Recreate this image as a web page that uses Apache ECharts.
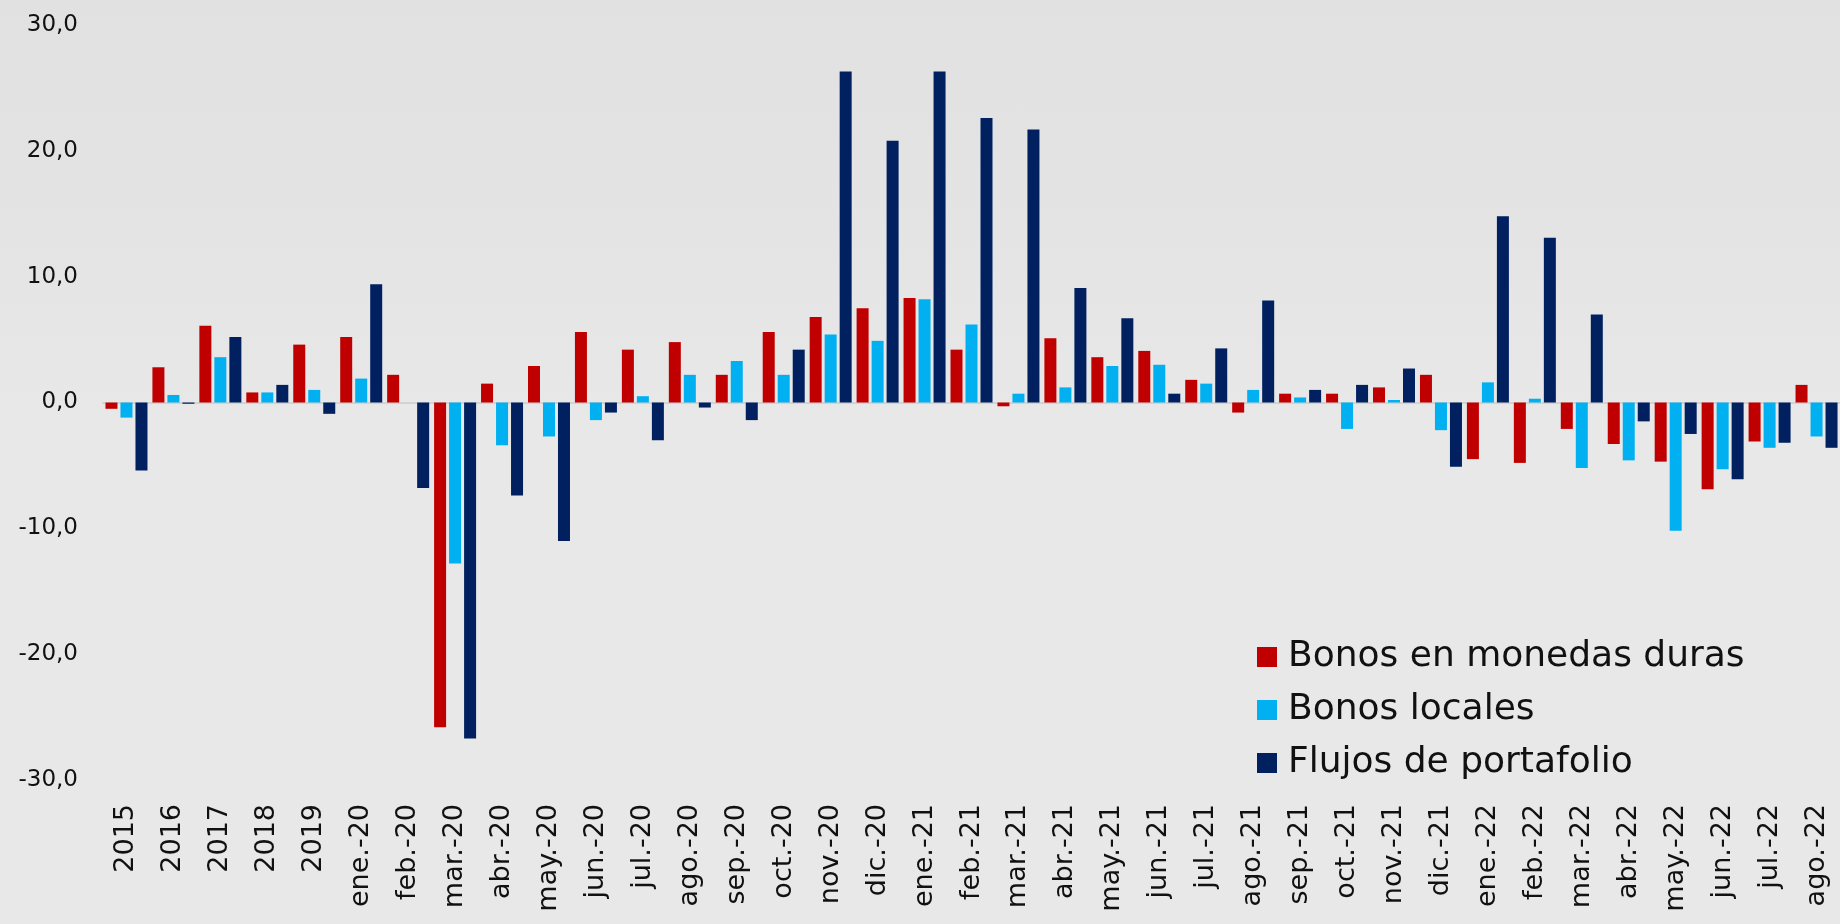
<!DOCTYPE html>
<html>
<head>
<meta charset="utf-8">
<script src="https://cdn.jsdelivr.net/npm/echarts@6/dist/echarts.min.js"></script>
<style>
  html, body { margin: 0; padding: 0; }
  body { width: 1840px; height: 924px; overflow: hidden;
         background: linear-gradient(to bottom, #e1e1e1 0%, #e4e4e4 25%, #e8e8e8 45%, #e8e8e8 100%); }
  #chart { width: 1840px; height: 924px; }
</style>
</head>
<body>
<div id="chart"></div>
<script>
const categories = ['2015','2016','2017','2018','2019',
  'ene.-20','feb.-20','mar.-20','abr.-20','may.-20','jun.-20','jul.-20','ago.-20','sep.-20','oct.-20','nov.-20','dic.-20',
  'ene.-21','feb.-21','mar.-21','abr.-21','may.-21','jun.-21','jul.-21','ago.-21','sep.-21','oct.-21','nov.-21','dic.-21',
  'ene.-22','feb.-22','mar.-22','abr.-22','may.-22','jun.-22','jul.-22','ago.-22'];

const bonosDuras = [-0.5, 2.8, 6.1, 0.8, 4.6, 5.2, 2.2, -25.8, 1.5, 2.9, 5.6, 4.2, 4.8, 2.2, 5.6, 6.8, 7.5,
  8.3, 4.2, -0.3, 5.1, 3.6, 4.1, 1.8, -0.8, 0.7, 0.7, 1.2, 2.2, -4.5, -4.8, -2.1, -3.3, -4.7, -6.9, -3.1, 1.4];
const bonosLocales = [-1.2, 0.6, 3.6, 0.8, 1.0, 1.9, 0, -12.8, -3.4, -2.7, -1.4, 0.5, 2.2, 3.3, 2.2, 5.4, 4.9,
  8.2, 6.2, 0.7, 1.2, 2.9, 3.0, 1.5, 1.0, 0.4, -2.1, 0.2, -2.2, 1.6, 0.3, -5.2, -4.6, -10.2, -5.3, -3.6, -2.7];
const flujos = [-5.4, -0.1, 5.2, 1.4, -0.9, 9.4, -6.8, -26.7, -7.4, -11.0, -0.8, -3.0, -0.4, -1.4, 4.2, 26.3, 20.8,
  26.3, 22.6, 21.7, 9.1, 6.7, 0.7, 4.3, 8.1, 1.0, 1.4, 2.7, -5.1, 14.8, 13.1, 7.0, -1.5, -2.5, -6.1, -3.2, -3.6];

const seriesNames = ['Bonos en monedas duras', 'Bonos locales', 'Flujos de portafolio'];
const colors = ['#C00000', '#00B0F0', '#002060'];

const FONT = 'DejaVu Sans';
const chart = echarts.init(document.getElementById('chart'), null, { renderer: 'canvas' });

chart.setOption({
  backgroundColor: 'transparent',
  animation: false,
  color: colors,
  grid: { left: 103, right: 0, top: 25, bottom: 144, containLabel: false },
  legend: {
    orient: 'vertical',
    left: 1257,
    top: 639,
    padding: 0,
    icon: 'rect',
    itemWidth: 20,
    itemHeight: 20,
    itemGap: 17,
    data: seriesNames,
    textStyle: { fontFamily: FONT, fontSize: 36, color: '#111', lineHeight: 36, padding: [0, 0, 0, 6] }
  },
  xAxis: [
    {
      type: 'category',
      data: categories,
      position: 'bottom',
      axisLine: { show: false, onZero: false },
      axisTick: { show: false },
      splitLine: { show: false },
      axisLabel: { rotate: 90, interval: 0, margin: 24, fontFamily: FONT, fontSize: 27, color: '#111' }
    },
    {
      type: 'category',
      data: categories,
      position: 'bottom',
      axisLine: { show: true, onZero: true, lineStyle: { color: '#d3d3d3', width: 2 } },
      axisTick: { show: false },
      axisLabel: { show: false },
      splitLine: { show: false }
    }
  ],
  yAxis: {
    type: 'value',
    min: -30,
    max: 30,
    interval: 10,
    axisLine: { show: false },
    axisTick: { show: false },
    splitLine: { show: false },
    axisLabel: {
      margin: 25,
      fontFamily: FONT,
      fontSize: 23,
      color: '#111',
      formatter: v => v.toFixed(1).replace('.', ',')
    }
  },
  series: seriesNames.map((name, i) => ({
    name: name,
    type: 'bar',
    xAxisIndex: 0,
    data: [bonosDuras, bonosLocales, flujos][i],
    barWidth: 12,
    barGap: '25%',
    itemStyle: { color: colors[i] }
  }))
});
</script>
</body>
</html>
